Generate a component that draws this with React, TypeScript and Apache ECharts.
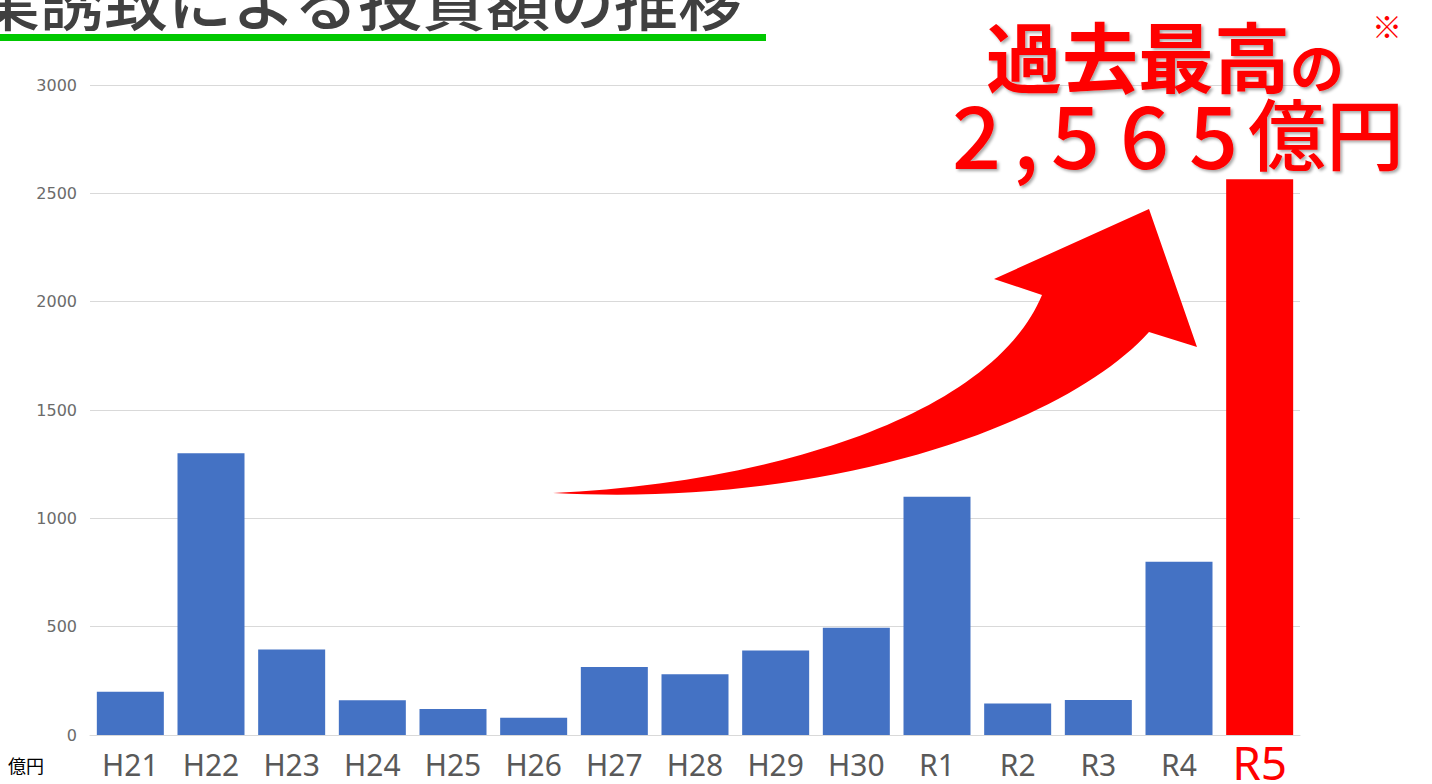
import React, { useEffect, useRef } from 'react';
import * as echarts from 'echarts';

const categories = ['H21', 'H22', 'H23', 'H24', 'H25', 'H26', 'H27', 'H28', 'H29', 'H30', 'R1', 'R2', 'R3', 'R4', 'R5'];
const values = [200, 1300, 395, 160, 120, 80, 314, 280, 390, 495, 1100, 145, 162, 800, 2565];
const highlightCategory = 'R5';
const yMin = 0;
const yMax = 3000;
const yInterval = 500;
const titleText = '企業誘致による投資額の推移';
const unitText = '億円';

const ARROW_D =
  'M553,493 C760,484 990,420 1042,295 L994,279 L1149,209 L1197,347 L1149,332 C1070,420 840,508 553,493 Z';

try {
  echarts.graphic.registerShape('upArrow', echarts.graphic.extendPath(ARROW_D, {}));
} catch (e) {
  // already registered
}

const shadow = {
  textShadowColor: 'rgba(0,0,0,0.35)',
  textShadowBlur: 3,
  textShadowOffsetX: 2,
  textShadowOffsetY: 2,
};

export default function App() {
  const ref = useRef<HTMLDivElement>(null);

  useEffect(() => {
    if (!ref.current) return;
    const chart = echarts.init(ref.current, null, { renderer: 'svg' });
    const option = {
      animation: false,
      backgroundColor: '#ffffff',
      grid: { left: 90, right: 132, top: 85, bottom: 49, containLabel: false, outerBoundsMode: 'none' },
      xAxis: {
        type: 'category',
        data: categories,
        axisLine: { show: true, lineStyle: { color: '#d9d9d9', width: 1 } },
        axisTick: { show: false },
        axisLabel: {
          margin: 14,
          formatter: (v: string) => (v === highlightCategory ? `{r|${v}}` : `{n|${v}}`),
          rich: {
            n: { fontSize: 30, color: '#595959', fontFamily: 'Noto Sans', lineHeight: 30 },
            r: { fontSize: 46, color: '#ff0000', fontFamily: 'Noto Sans', lineHeight: 26 },
          },
        },
      },
      yAxis: {
        type: 'value',
        min: yMin,
        max: yMax,
        interval: yInterval,
        axisLine: { show: false },
        axisTick: { show: false },
        axisLabel: {
          margin: 13,
          fontSize: 16,
          color: '#6b6b6b',
          fontFamily: 'DejaVu Sans',
          formatter: (v: number) => String(v),
        },
        splitLine: { lineStyle: { color: '#d9d9d9', width: 1 } },
      },
      series: [
        {
          type: 'bar',
          barWidth: 67,
          data: values.map((v, i) => ({
            value: v,
            itemStyle: { color: categories[i] === highlightCategory ? '#ff0000' : '#4472c4' },
          })),
        },
      ],
      graphic: [
        {
          type: 'text',
          x: -88,
          y: -3,
          style: {
            text: titleText,
            fontSize: 64,
            fontWeight: 500,
            fontFamily: 'Noto Sans CJK JP',
            fill: '#404040',
            textVerticalAlign: 'middle',
          },
        },
        { type: 'rect', shape: { x: 0, y: 34, width: 766, height: 7 }, style: { fill: '#00c800' } },
        { type: 'upArrow', x: 0, y: 0, z: 10, style: { fill: '#ff0000' } },
        {
          type: 'text',
          x: 986,
          y: 60,
          z: 20,
          style: {
            text: '{a|過去最高}{b|の}',
            rich: {
              a: { fontSize: 76, lineHeight: 64, fontWeight: 'bold', fontFamily: 'Noto Sans CJK JP', fill: '#ff0000', verticalAlign: 'bottom', ...shadow },
              b: { fontSize: 54, lineHeight: 46, fontWeight: 'bold', fontFamily: 'Noto Sans CJK JP', fill: '#ff0000', verticalAlign: 'bottom', ...shadow },
            },
            textVerticalAlign: 'middle',
          },
        },
        {
          type: 'text',
          x: 942,
          y: 131,
          z: 20,
          style: {
            text: '{d|2}{c|,}{d|5}{d|6}{d|5}{y|億円}',
            rich: {
              d: { fontSize: 86, lineHeight: 66, width: 69, align: 'center', fontWeight: 500, fontFamily: 'Noto Sans CJK JP', fill: '#ff0000', ...shadow },
              c: { fontSize: 86, lineHeight: 66, width: 30, align: 'center', fontWeight: 500, fontFamily: 'Noto Sans CJK JP', fill: '#ff0000', ...shadow },
              y: { fontSize: 78, lineHeight: 66, fontWeight: 500, fontFamily: 'Noto Sans CJK JP', fill: '#ff0000', ...shadow },
            },
            textVerticalAlign: 'middle',
          },
        },
        {
          type: 'text',
          x: 1372,
          y: 25,
          z: 20,
          style: {
            text: '※',
            fontSize: 30,
            fontFamily: 'Noto Sans CJK JP',
            fill: '#ff0000',
            textVerticalAlign: 'middle',
          },
        },
        {
          type: 'text',
          x: 8,
          y: 765,
          style: {
            text: unitText,
            fontSize: 18,
            fontFamily: 'Noto Sans CJK JP',
            fill: '#000000',
            textVerticalAlign: 'middle',
          },
        },
      ],
    };
    chart.setOption(option as any);
    return () => chart.dispose();
  }, []);

  return (
    <div
      ref={ref}
      style={{ position: 'fixed', left: 0, top: 0, width: 1432, height: 784 }}
    />
  );
}
